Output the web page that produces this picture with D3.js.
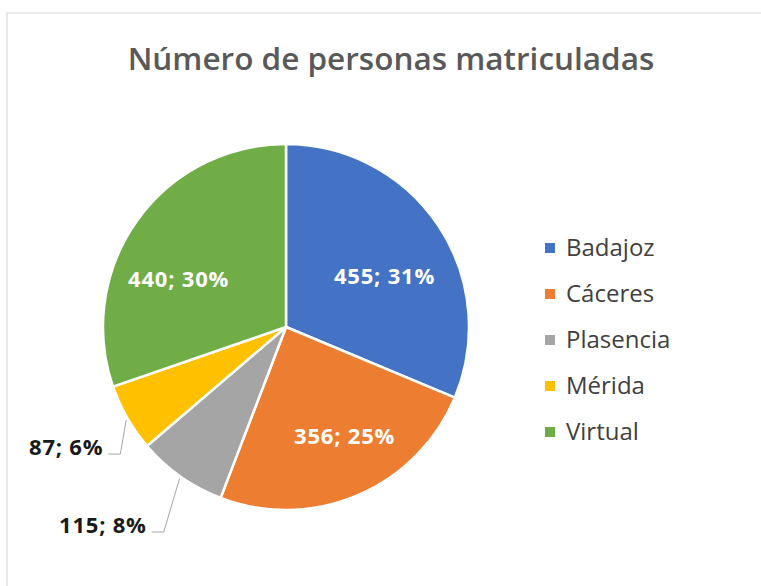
<!DOCTYPE html>
<html>
<head>
<meta charset="utf-8">
<script src="https://cdn.jsdelivr.net/npm/d3@7"></script>
<style>
  body { margin: 0; background: #fff; }
  svg { display: block; font-family: "Open Sans", "Noto Sans", sans-serif; }
</style>
</head>
<body>
<svg id="chart" width="761" height="586"></svg>
<script>
// datos
const sedes = ["Badajoz", "Cáceres", "Plasencia", "Mérida", "Virtual"];
const matriculados = [455, 356, 115, 87, 440];
const porcentajes = ["31%", "25%", "8%", "6%", "30%"];
const colores = ["#4472C4", "#ED7D31", "#A5A5A5", "#FFC000", "#70AD47"];

const svg = d3.select("#chart");
const width = 761, height = 586;

// marco del gráfico
svg.append("path")
    .attr("d", `M7,${height} L7,13 L${width},13`)
    .attr("fill", "none")
    .attr("stroke", "#d9d9d9")
    .attr("stroke-width", 1.2);

// título
svg.append("text")
    .attr("x", 391)
    .attr("y", 70)
    .attr("text-anchor", "middle")
    .attr("fill", "#595959")
    .style("font-size", "31.5px")
    .style("font-weight", 600)
    .text("Número de personas matriculadas");

const cx = 286, cy = 327, radio = 183;
const datos = sedes.map((s, i) => ({ sede: s, valor: matriculados[i], pct: porcentajes[i], color: colores[i] }));

const pie = d3.pie().sort(null).value(d => d.valor);
const arc = d3.arc().innerRadius(0).outerRadius(radio);
const arcos = pie(datos);

const g = svg.append("g").attr("transform", `translate(${cx},${cy})`);

g.selectAll("path")
    .data(arcos)
    .join("path")
    .attr("d", arc)
    .attr("fill", d => d.data.color)
    .attr("stroke", "#fff")
    .attr("stroke-width", 2.5);

// etiquetas: dentro o fuera (ajuste tipo "mejor ajuste" de Excel)
const ajuste = {
    "Badajoz":   { dentro: true,  k: 0.62, dx: 4,   dy: 12 },
    "Cáceres":   { dentro: true,  k: 0.62, dx: 14,  dy: 5 },
    "Virtual":   { dentro: true,  k: 0.62, dx: -15, dy: 18 },
    "Plasencia": { dentro: false, k: 1.15, dx: -18, dy: 26 },
    "Mérida":    { dentro: false, k: 1.15, dx: 0,   dy: 15.5 }
};

function puntoEn(d, r) {
    const a = (d.startAngle + d.endAngle) / 2;
    return [Math.sin(a) * r, -Math.cos(a) * r];
}

arcos.forEach(d => {
    const aj = ajuste[d.data.sede];
    const [px, py] = puntoEn(d, radio * aj.k);
    const x = px + aj.dx, y = py + aj.dy;
    const texto = `${d.data.valor}; ${d.data.pct}`;
    const t = g.append("text")
        .attr("x", x).attr("y", y)
        .attr("dy", "0.35em")
        .style("font-size", "22px")
        .style("font-weight", 700)
        .style("letter-spacing", "0.8px")
        .text(texto);
    if (aj.dentro) {
        t.attr("text-anchor", "middle").attr("fill", "#fff");
    } else {
        t.attr("text-anchor", "end").attr("fill", "#1a1a1a");
        const [ax, ay] = puntoEn(d, radio);
        g.append("polyline")
            .attr("points", `${x + 5},${y + 7} ${x + 17},${y + 7} ${ax - 1},${ay + 2}`)
            .attr("fill", "none")
            .attr("stroke", "#a6a6a6")
            .attr("stroke-width", 1);
    }
});

// leyenda
const leyenda = svg.append("g").attr("transform", "translate(545, 248)");
datos.forEach((d, i) => {
    const fila = leyenda.append("g").attr("transform", `translate(0, ${i * 46})`);
    fila.append("rect")
        .attr("x", 0).attr("y", -5)
        .attr("width", 10).attr("height", 10)
        .attr("fill", d.color);
    fila.append("text")
        .attr("x", 21).attr("y", 0)
        .attr("dy", "0.35em")
        .attr("fill", "#404040")
        .style("font-size", "24px")
        .text(d.sede);
});
</script>
</body>
</html>
